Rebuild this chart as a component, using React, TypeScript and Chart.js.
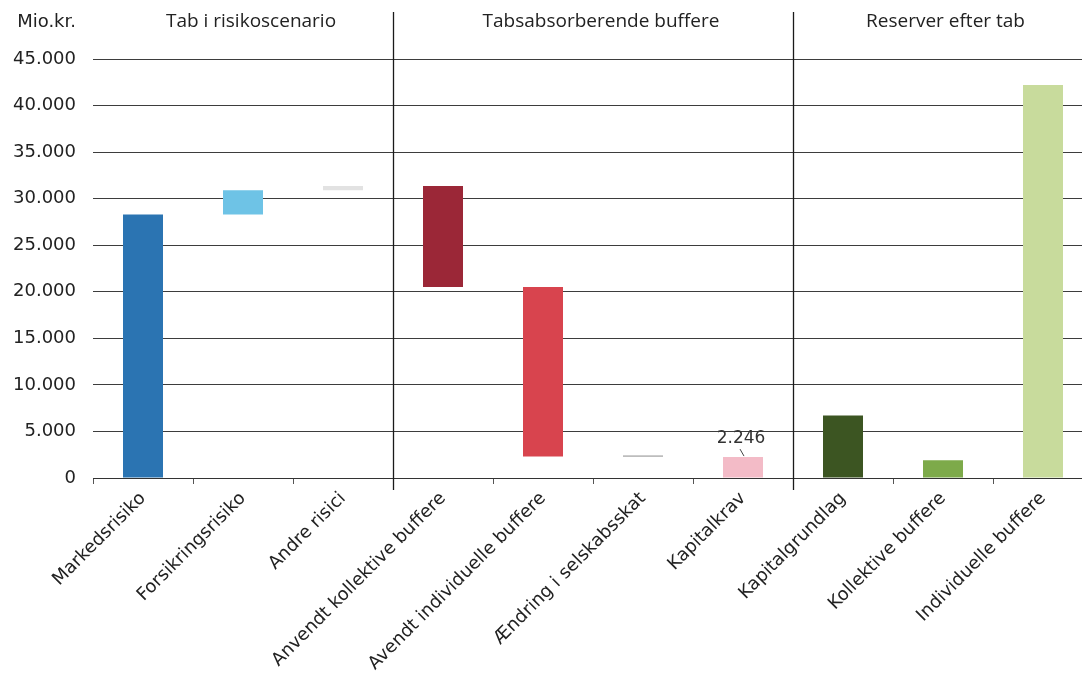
import React, { useEffect, useRef } from "react";
import { Chart, registerables } from "chart.js";

Chart.register(...registerables);

const categories = [
  "Markedsrisiko",
  "Forsikringsrisiko",
  "Andre risici",
  "Anvendt kollektive buffere",
  "Avendt individuelle buffere",
  "Ændring i selskabsskat",
  "Kapitalkrav",
  "Kapitalgrundlag",
  "Kollektive buffere",
  "Individuelle buffere",
];
const barStart = [0, 28300, 30900, 20500, 2300, 2246, 0, 0, 0, 0];
const barEnd = [28300, 30900, 31350, 31350, 20500, 2450, 2246, 6700, 1900, 42200];
const barColors = [
  "#2B74B2",
  "#6EC3E6",
  "#E2E2E2",
  "#9B2737",
  "#D8444E",
  "#BDBDBD",
  "#F3BBC7",
  "#3C5522",
  "#7DAA4A",
  "#C8DB9C",
];
const yTicks = [0, 5000, 10000, 15000, 20000, 25000, 30000, 35000, 40000, 45000];
const sections = ["Tab i risikoscenario", "Tabsabsorberende buffere", "Reserver efter tab"];
const sectionStart = [0, 3, 7];
const sectionEnd = [2, 6, 9];
const unitLabel = "Mio.kr.";
const labelledIndex = 6;

const fmt = (v: number) => String(Math.round(v)).replace(/\B(?=(\d{3})+(?!\d))/g, ".");

const GRID = "#3d3d3d";
const TEXT = "#222";
const TICK_FONT = "DejaVu Sans";
const HEAD_FONT = "Open Sans";
const VISIBLE_W = 1082;

export default function App() {
  const ref = useRef<HTMLCanvasElement | null>(null);

  useEffect(() => {
    if (!ref.current) return;
    const boundary = (x: any, i: number) => {
      const step = x.getPixelForValue(1) - x.getPixelForValue(0);
      return x.getPixelForValue(i) - step / 2;
    };
    const overlay = {
      id: "overlay",
      afterDatasetsDraw(chart: any) {
        const { ctx, chartArea } = chart;
        const x = chart.scales.x;
        const y = chart.scales.y;
        ctx.save();
        // section dividers
        ctx.strokeStyle = "#1a1a1a";
        ctx.lineWidth = 1.3;
        sectionStart.slice(1).forEach((i) => {
          const px = Math.round(boundary(x, i)) + 0.5;
          ctx.beginPath();
          ctx.moveTo(px, 12);
          ctx.lineTo(px, chartArea.bottom + 12);
          ctx.stroke();
        });
        // section headers
        ctx.fillStyle = TEXT;
        ctx.font = `19px "${HEAD_FONT}"`;
        ctx.textAlign = "center";
        ctx.textBaseline = "middle";
        sections.forEach((s, k) => {
          const l = boundary(x, sectionStart[k]);
          const r = Math.min(VISIBLE_W, boundary(x, sectionEnd[k] + 1));
          ctx.fillText(s, (l + r) / 2 + 8, 22);
        });
        // unit label
        ctx.font = `18px "${TICK_FONT}"`;
        ctx.textAlign = "right";
        ctx.fillText(unitLabel, 76, 22);
        // value label
        const cx = x.getPixelForValue(labelledIndex);
        const top = y.getPixelForValue(barEnd[labelledIndex]);
        ctx.font = `17px "${TICK_FONT}"`;
        ctx.textAlign = "center";
        ctx.fillStyle = "#333";
        ctx.fillText(fmt(barEnd[labelledIndex] - barStart[labelledIndex]), cx - 2, top - 19);
        ctx.strokeStyle = "#444";
        ctx.lineWidth = 1;
        ctx.beginPath();
        ctx.moveTo(cx - 3, top - 8);
        ctx.lineTo(cx + 1, top - 1);
        ctx.stroke();
        ctx.restore();
      },
    };

    const chart = new Chart(ref.current, {
      type: "bar",
      data: {
        labels: categories,
        datasets: [
          {
            data: barStart.map((s, i) => [s, barEnd[i]]) as any,
            backgroundColor: barColors,
            borderWidth: 0,
            borderSkipped: false,
            barPercentage: 0.4,
            categoryPercentage: 1,
          },
        ],
      },
      options: {
        animation: false,
        responsive: true,
        maintainAspectRatio: false,
        layout: { padding: { top: 59, right: 7, left: 0, bottom: 0 } },
        plugins: { legend: { display: false }, tooltip: { enabled: false } },
        scales: {
          x: {
            offset: true,
            grid: {
              drawOnChartArea: false,
              drawTicks: true,
              tickLength: 6,
              color: "#555",
              offset: true,
            },
            border: { display: true, color: "#333", width: 1 },
            ticks: {
              color: TEXT,
              font: { family: TICK_FONT, size: 18 },
              minRotation: 45,
              maxRotation: 45,
              padding: 4,
              autoSkip: false,
            },
            afterFit: (s: any) => {
              s.height = 199;
            },
          },
          y: {
            min: 0,
            max: 45000,
            grid: { color: GRID, drawTicks: false, lineWidth: 1 },
            border: { display: false },
            ticks: {
              stepSize: 5000,
              color: TEXT,
              padding: 17,
              font: { family: TICK_FONT, size: 18 },
              callback: (v: any) => fmt(Number(v)),
            },
            afterFit: (s: any) => {
              s.width = 93;
            },
          },
        },
      },
      plugins: [overlay],
    });
    return () => chart.destroy();
  }, []);

  return (
    <div
      style={{
        position: "absolute",
        left: 0,
        top: 0,
        width: VISIBLE_W,
        height: 677,
        overflow: "hidden",
        background: "#fff",
      }}
    >
      <div style={{ width: 1100, height: 677, position: "relative" }}>
        <canvas ref={ref} />
      </div>
    </div>
  );
}
